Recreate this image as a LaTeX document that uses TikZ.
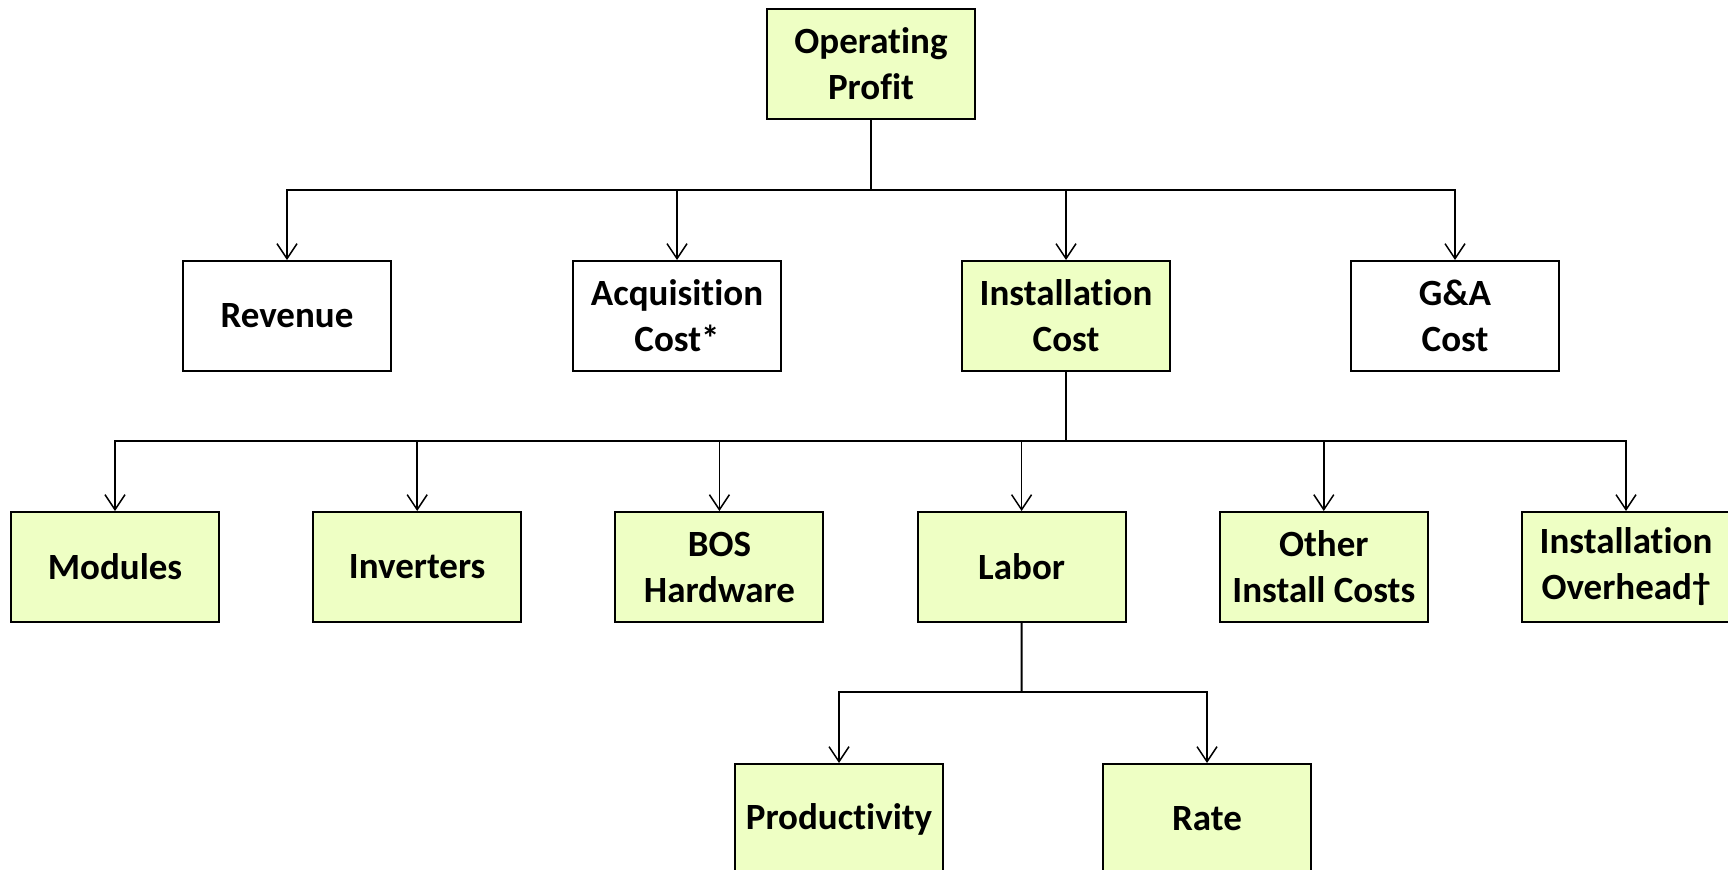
\documentclass[tikz,border=0pt]{standalone}
\usepackage{fontspec}
\setmainfont[Ligatures=NoCommon]{Carlito}
\usetikzlibrary{arrows.meta}
\definecolor{boxgreen}{RGB}{238,255,196}
\begin{document}
\begin{tikzpicture}[x=0.5pt,y=-0.5pt,
every node/.style={font=\fontsize{18.5}{23}\selectfont\bfseries},
box/.style={%
draw,
line width=1pt,
align=center,
inner sep=0pt,
minimum width=104pt,
minimum height=55pt
},
cost/.style={%
box,
fill=boxgreen
},
trunk/.style={line width=1pt},
branch/.style={%
line width=0.75pt,
-{Straight Barb[length=7.5pt,width=10pt]}
}]
\useasboundingbox (0,0) rectangle (1728,869);
\node[cost](profit)at(871,64){Operating\\Profit};
\node[box](revenue)at(287,316){Revenue};
\node[box](acquisition)at(677,316){Acquisition\\Cost*};
\node[cost](install)at(1066,316){Installation\\Cost};
\node[box](ga)at(1455,316){G\&A\\Cost};
\foreach \n/\t[count=\i from 0] in {modules/Modules,inverters/Inverters,bos/BOS\\Hardware,labor/Labor,other/Other\\Install Costs,overhead/Installation\\Overhead\textdagger}{%
\node[cost](\n)at(115+\i*302.2,567){\t};
}
\node[cost](productivity)at(839,819){Productivity};
\node[cost](rate)at(1207,819){Rate};
% connectors
\coordinate(bus1)at(871,190);
\coordinate(bus2)at(1066,441);
\coordinate(bus3)at(1021.6,692);
\draw[trunk](profit.south)--(bus1);
\foreach \n in {revenue,acquisition,install,ga}{%
\draw[branch](bus1)-|(\n.north);
}
\draw[trunk](install.south)--(bus2);
\foreach \n in {modules,inverters,bos,labor,other,overhead}{%
\draw[branch](bus2)-|(\n.north);
}
\draw[trunk](labor.south)--(bus3);
\foreach \n in {productivity,rate}{%
\draw[branch](bus3)-|(\n.north);
}
\end{tikzpicture}
\end{document}
